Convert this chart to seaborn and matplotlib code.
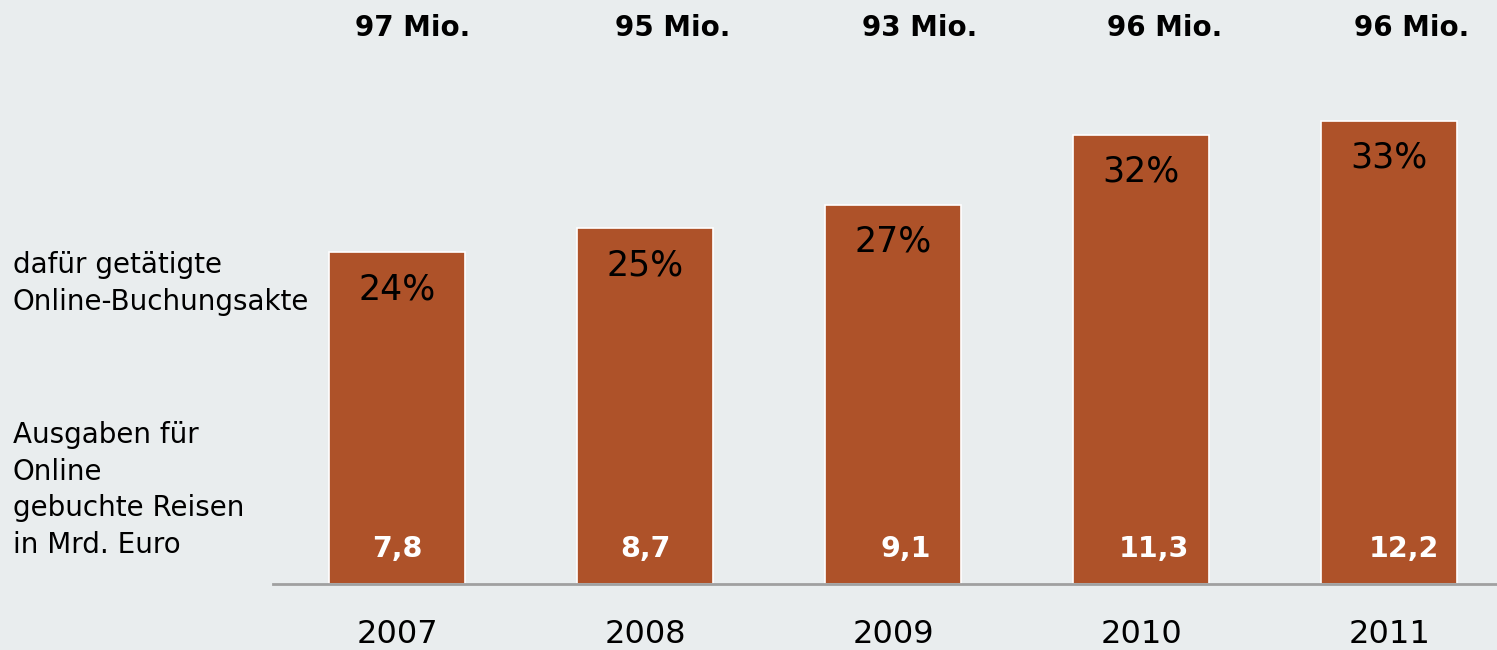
import matplotlib
matplotlib.use("Agg")
import matplotlib.pyplot as plt
import seaborn as sns
import pandas as pd

years = ["2007", "2008", "2009", "2010", "2011"]
bar_share = [23.7, 25.4, 27.1, 32.1, 33.1]
share_labels = ["24%", "25%", "27%", "32%", "33%"]
spending_bn = ["7,8", "8,7", "9,1", "11,3", "12,2"]
bookings = ["97 Mio.", "95 Mio.", "93 Mio.", "96 Mio.", "96 Mio."]

BG = "#E9EDEE"
BAR = "#AE5229"

sns.set_theme(style="white")
plt.rcParams["font.family"] = ["DejaVu Sans"]

fig = plt.figure(figsize=(14.97, 6.5), dpi=100, facecolor=BG)
ax = fig.add_axes([273 / 1497, 66 / 650, 1 - 273 / 1497, 584 / 650])
ax.set_facecolor(BG)

df = pd.DataFrame({"year": years, "share": bar_share})
sns.barplot(data=df, x="year", y="share", color=BAR, saturation=1,
            width=0.55, edgecolor="white", linewidth=1.2, ax=ax)

ax.set_xlim(-0.5, 4.435)
ax.set_ylim(0, 584 / 14.0)

for s in ["top", "right", "left"]:
    ax.spines[s].set_visible(False)
ax.spines["bottom"].set_color("#A0A0A0")
ax.spines["bottom"].set_linewidth(2)
ax.set_yticks([])
ax.set_xlabel("")
ax.set_ylabel("")
ax.tick_params(axis="x", length=0, pad=25, labelsize=23, labelcolor="black")

inner_dx = [0, 0, 9, 9, 11]      # small horizontal nudges (points)
top_dx = [11, 20, 19, 17, 16]    # nudges for headline labels (points)
top_y = (650 - 28 - 66) / 584    # headline band, axes fraction

for i, (h, p, v, b) in enumerate(zip(bar_share, share_labels, spending_bn, bookings)):
    ax.annotate(p, xy=(i, h), xytext=(0, -26.5), textcoords="offset points",
                ha="center", va="center", fontsize=25, color="black")
    ax.annotate(v, xy=(i, 0), xytext=(inner_dx[i], 25), textcoords="offset points",
                ha="center", va="center", fontsize=20.5, fontweight="bold", color="white")
    ax.annotate(b, xy=(i, top_y), xycoords=("data", "axes fraction"),
                xytext=(top_dx[i], 0), textcoords="offset points",
                ha="center", va="center", fontsize=20, fontweight="bold", color="black",
                annotation_clip=False)

fig.text(13 / 1497, 1 - 283.5 / 650, "dafür getätigte\nOnline-Buchungsakte",
         ha="left", va="center", fontsize=20, color="black", linespacing=1.38)
fig.text(13 / 1497, 1 - 490 / 650, "Ausgaben für\nOnline\ngebuchte Reisen\nin Mrd. Euro",
         ha="left", va="center", fontsize=20, color="black", linespacing=1.38)

fig.savefig("out.png", dpi=100, facecolor=BG)
